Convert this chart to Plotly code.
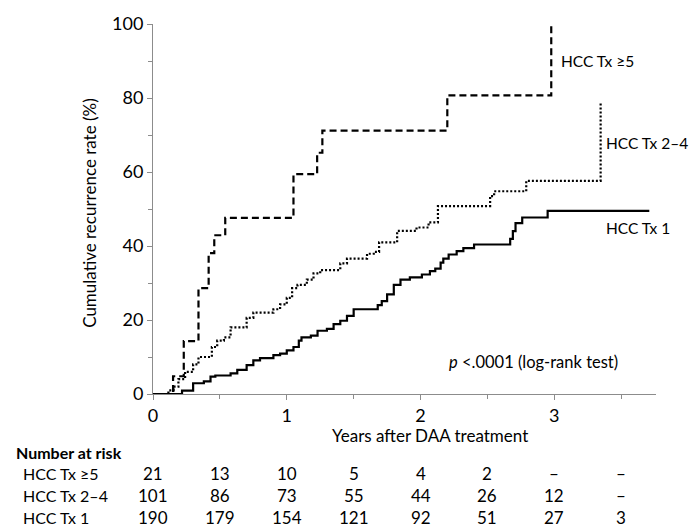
import plotly.graph_objects as go

# ---- data ----
t_ge5 = [0, 0.15, 0.23, 0.34, 0.416, 0.458, 0.54, 1.05, 1.227, 1.266, 2.20, 2.977]
y_ge5 = [0, 4.8, 14.3, 28.6, 38.1, 42.9, 47.6, 59.4, 65.2, 71.2, 80.7, 100]

t_24 = [0, 0.115, 0.154, 0.19, 0.24, 0.30, 0.34, 0.44, 0.48, 0.53, 0.58, 0.70, 0.75,
        0.90, 0.95, 1.0, 1.04, 1.08, 1.15, 1.20, 1.25, 1.40, 1.45, 1.60, 1.65, 1.69,
        1.825, 1.97, 2.06, 2.13, 2.52, 2.55, 2.79, 3.346]
y_24 = [0, 1, 2, 4, 6, 8, 10, 12.7, 14.4, 15.3, 18, 20.6, 22,
        22.9, 24.2, 26, 28.6, 29.5, 30.9, 32.6, 33.5, 35.3, 36.6, 37.9, 38.4, 41,
        44.1, 45, 46.4, 50.8, 53.5, 54.8, 57.6, 78.5]

t_1 = [0, 0.217, 0.30, 0.38, 0.43, 0.466, 0.58, 0.63, 0.70, 0.75, 0.80, 0.90, 0.95,
       1.0, 1.05, 1.09, 1.11, 1.18, 1.23, 1.30, 1.35, 1.40, 1.45, 1.50, 1.68, 1.71,
       1.75, 1.80, 1.85, 1.92, 2.01, 2.07, 2.11, 2.15, 2.17, 2.21, 2.27, 2.32, 2.40,
       2.67, 2.69, 2.71, 2.76, 2.95, 3.71]
y_1 = [0, 0.9, 2.9, 3.4, 4.7, 5, 5.6, 6.5, 7.8, 9.1, 9.7, 10.5, 10.9,
       11.8, 12.7, 14.4, 15.3, 15.8, 17.1, 17.6, 18.9, 19.8, 21.1, 22.9, 24, 25.1,
       26.9, 29.5, 30.9, 31.5, 32.3, 33.2, 33.9, 35.5, 36.6, 37.7, 38.6, 39.4, 40.4,
       41.9, 44, 46.2, 47.7, 49.5, 49.5]

risk_times = [0, 0.5, 1, 1.5, 2, 2.5, 3, 3.5]
risk_groups = ["HCC Tx ≥5", "HCC Tx 2–4", "HCC Tx 1"]
risk_ge5 = ["21", "13", "10", "5", "4", "2", "–", "–"]
risk_24 = ["101", "86", "73", "55", "44", "26", "12", "–"]
risk_1 = ["190", "179", "154", "121", "92", "51", "27", "3"]

FONT = "Lato"
fig = go.Figure()
fig.add_trace(go.Scatter(x=t_ge5, y=y_ge5, mode="lines", line_shape="hv",
                         line=dict(color="black", width=2.2, dash="7px,4px"), showlegend=False))
fig.add_trace(go.Scatter(x=t_24, y=y_24, mode="lines", line_shape="hv",
                         line=dict(color="black", width=2.2, dash="2px,2px"), showlegend=False))
fig.add_trace(go.Scatter(x=t_1, y=y_1, mode="lines", line_shape="hv",
                         line=dict(color="black", width=2.2), showlegend=False))

ann = []
lab = dict(font=dict(family=FONT, size=15.5, color="black"), showarrow=False, xref="x", yref="y")
ann.append(dict(x=3.035, y=90, text="HCC Tx ≥5", xanchor="left", **lab))
ann.append(dict(x=3.372, y=67.8, text="HCC Tx 2–4", xanchor="left", **lab))
ann.append(dict(x=3.372, y=45, text="HCC Tx 1", xanchor="left", **lab))
ann.append(dict(x=2.845, y=8.7, text="<i>p</i> <.0001 (log-rank test)", xanchor="center",
                font=dict(family=FONT, size=16.5, color="black"), showarrow=False, xref="x", yref="y"))

base = dict(font=dict(family=FONT, size=17, color="black"), showarrow=False)
ann.append(dict(x=-0.125, y=0.49, xref="paper", yref="paper", text="Cumulative recurrence rate (%)",
                textangle=-90, xanchor="center", yanchor="middle", **base))
ann.append(dict(x=2.07, y=-0.112, xref="x", yref="paper", text="Years after DAA treatment",
                xanchor="center", yanchor="middle", **base))
tab = dict(font=dict(family=FONT, size=16, color="black"), showarrow=False)
num = dict(font=dict(family=FONT, size=17, color="black"), showarrow=False)
ann.append(dict(x=-0.276, y=-0.157, xref="paper", yref="paper", text="<b>Number at risk</b>",
                xanchor="left", yanchor="middle", **tab))
row_y = [-0.2154, -0.2747, -0.3332]
for g, vals, ry in zip(risk_groups, [risk_ge5, risk_24, risk_1], row_y):
    ann.append(dict(x=-0.262, y=ry, xref="paper", yref="paper", text=g,
                    xanchor="left", yanchor="middle", **tab))
    for t, v in zip(risk_times, vals):
        ann.append(dict(x=t, y=ry, xref="x", yref="paper", text=v,
                        xanchor="center", yanchor="middle", **num))

axcol = "#8c8c8c"
fig.update_layout(
    width=691, height=529,
    margin=dict(l=153, r=35, t=18, b=135),
    paper_bgcolor="white", plot_bgcolor="white",
    font=dict(family=FONT, size=18, color="black"),
    annotations=ann,
    xaxis=dict(range=[0, 3.76], tickvals=[0, 1, 2, 3], ticks="outside", ticklen=5,
               tickcolor=axcol, showline=True, linecolor=axcol, linewidth=1,
               showgrid=False, zeroline=False,
               minor=dict(tickvals=[0.5, 1.5, 2.5, 3.5], ticks="outside", ticklen=4, tickcolor=axcol),
               tickfont=dict(family=FONT, size=18, color="black")),
    yaxis=dict(range=[0, 100], tickvals=[0, 20, 40, 60, 80, 100], ticks="outside", ticklen=5,
               tickcolor=axcol, showline=True, linecolor=axcol, linewidth=1,
               showgrid=False, zeroline=False,
               minor=dict(tickvals=[10, 30, 50, 70, 90], ticks="outside", ticklen=4, tickcolor=axcol),
               tickfont=dict(family=FONT, size=18, color="black")),
)
fig.write_html("out.html", config={"displayModeBar": False},
               post_script="document.body.style.margin='0px';document.body.style.overflow='hidden';")
